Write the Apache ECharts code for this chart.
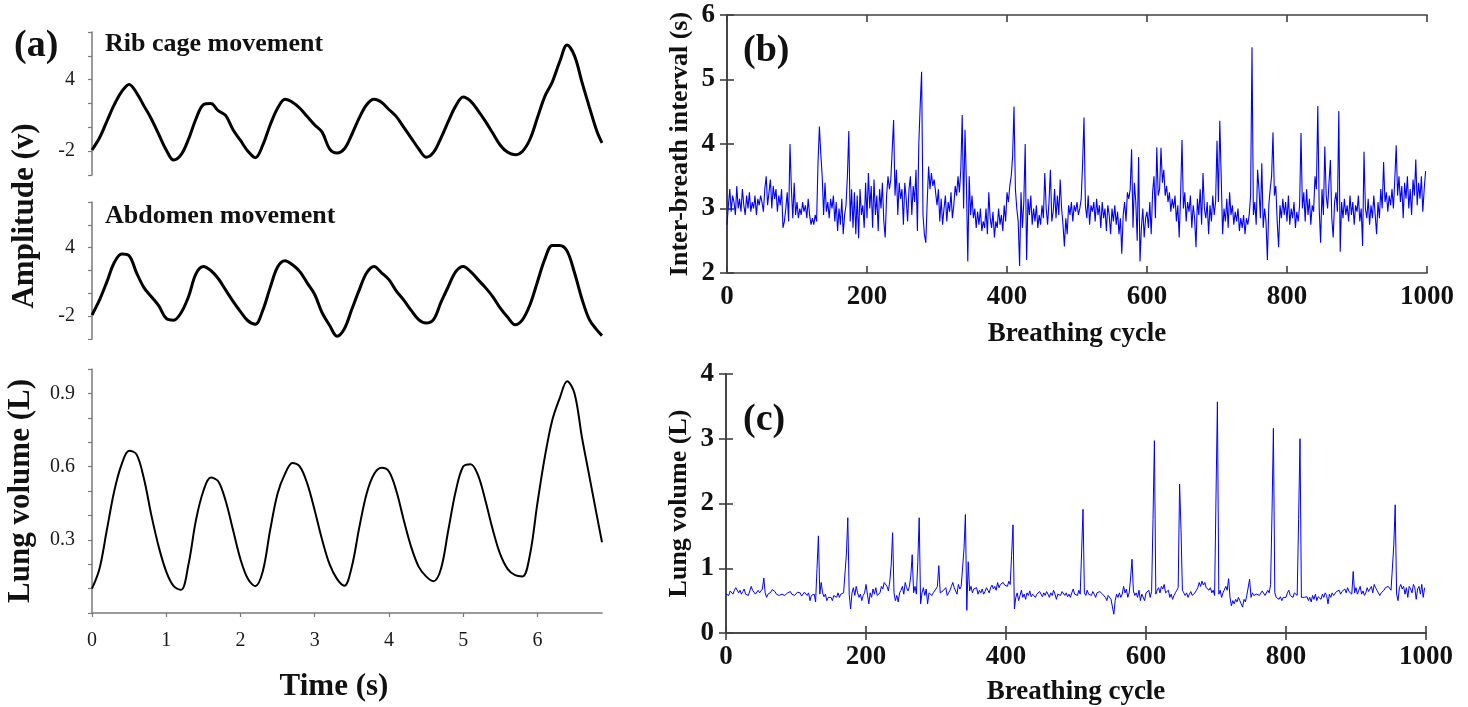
<!DOCTYPE html>
<html>
<head>
<meta charset="utf-8">
<script src="https://cdn.jsdelivr.net/npm/echarts@6/dist/echarts.min.js"></script>
<style>
html,body{margin:0;padding:0;background:#fff;}
#chart{width:1468px;height:707px;}
</style>
</head>
<body>
<div id="chart"></div>
<script>
// ---------- Panel (a) data ----------
const timeS = [0,0.1,0.2,0.3,0.4,0.5,0.6,0.7,0.8,0.9,1.0,1.1,1.2,1.3,1.4,1.5,1.6,1.7,1.8,1.9,2.0,2.1,2.2,2.3,2.4,2.5,2.6,2.7,2.8,2.9,3.0,3.1,3.2,3.3,3.4,3.5,3.6,3.7,3.8,3.9,4.0,4.1,4.2,4.3,4.4,4.5,4.6,4.7,4.8,4.9,5.0,5.1,5.2,5.3,5.4,5.5,5.6,5.7,5.8,5.9,6.0,6.1,6.2,6.3,6.4,6.5,6.6,6.7,6.8,6.87];
const ribCage = [-1.9,-0.9,0.5,1.9,3.0,3.6,2.9,1.8,0.7,-0.6,-1.9,-2.75,-2.3,-1.0,0.7,1.9,2.0,1.4,1.0,-0.2,-1.1,-2.0,-2.55,-1.5,0.2,1.6,2.35,2.1,1.6,0.9,0.2,-0.4,-1.8,-2.15,-1.8,-0.6,0.8,1.9,2.35,2.1,1.5,0.9,0.0,-0.9,-1.8,-2.5,-2.1,-0.9,0.5,1.8,2.55,2.2,1.4,0.5,-0.5,-1.5,-2.1,-2.3,-2.0,-1.0,0.8,2.6,3.8,5.5,6.9,6.0,3.8,1.7,-0.3,-1.3];
const abdomen = [-1.9,-0.6,1.0,2.7,3.45,3.3,1.8,0.5,-0.3,-1.1,-2.2,-2.35,-1.7,-0.3,1.7,2.35,2.0,1.3,0.3,-0.7,-1.6,-2.4,-2.7,-1.5,0.5,2.3,2.85,2.5,1.9,0.9,-0.1,-1.7,-2.8,-3.75,-3.1,-1.4,0.3,1.8,2.35,1.8,1.2,0.2,-0.6,-1.5,-2.3,-2.6,-2.3,-0.8,0.6,1.9,2.35,1.9,1.2,0.5,-0.3,-1.3,-2.1,-2.75,-2.3,-1.0,1.0,3.0,4.2,4.2,3.7,1.8,-0.5,-2.3,-3.2,-3.7];
const lungVolA = [0.10,0.18,0.34,0.50,0.61,0.665,0.65,0.55,0.40,0.27,0.17,0.11,0.095,0.20,0.38,0.50,0.555,0.54,0.46,0.34,0.22,0.14,0.11,0.17,0.34,0.49,0.57,0.615,0.60,0.53,0.42,0.30,0.20,0.14,0.112,0.19,0.35,0.49,0.57,0.595,0.58,0.50,0.38,0.27,0.19,0.15,0.13,0.18,0.34,0.50,0.60,0.61,0.565,0.46,0.34,0.24,0.18,0.155,0.15,0.24,0.45,0.64,0.79,0.88,0.95,0.90,0.72,0.56,0.40,0.29];

const ampTicks = [-4,-2,0,2,4,6,8];
const ampLabels = [-2,4];
const lungATicks = [0,0.1,0.2,0.3,0.4,0.5,0.6,0.7,0.8,0.9,1.0];
const lungALabels = [0.3,0.6,0.9];
const timeTicks = [0,1,2,3,4,5,6];

// ---------- Panels (b) and (c): one value every 2 breathing cycles ----------
const cycleStep = 2;
const interBreath = [
2.75,3.05,3.3,2.95,3.2,3.1,2.9,3.35,3.0,3.15,2.95,3.3,3.05,2.9,3.2,3.0,3.25,2.95,3.1,3.0,3.2,2.9,3.15,3.05,3.2,
3.1,2.95,3.3,3.5,3.05,3.25,3.45,3.0,3.35,3.15,3.3,2.95,3.2,3.05,3.3,2.7,2.8,3.0,3.25,2.8,4.0,3.3,2.85,3.4,2.9,
3.1,2.85,3.0,2.9,3.1,2.95,3.05,2.85,3.15,2.9,2.75,2.85,2.75,2.9,2.8,3.7,4.27,3.85,3.5,2.9,3.4,2.95,3.1,2.85,3.15,
3.0,3.2,2.8,3.1,2.65,3.0,2.75,3.15,2.6,2.9,3.05,3.5,4.2,2.8,3.3,2.7,3.25,2.6,3.2,2.54,3.3,2.9,3.05,2.7,3.4,
2.85,3.55,3.0,3.35,2.7,3.45,2.9,3.2,2.65,3.3,3.0,3.4,2.8,2.55,3.2,3.5,3.3,3.45,3.9,4.37,3.2,3.6,2.9,3.4,3.15,
3.3,2.75,3.4,3.15,2.8,3.3,3.5,2.9,3.35,3.1,3.6,2.65,4.0,4.6,5.12,2.9,2.6,2.47,3.1,3.65,3.3,3.55,3.35,3.45,3.25,
3.05,3.3,2.8,3.15,2.75,3.0,3.2,2.8,3.1,2.95,3.25,2.85,3.05,3.35,3.2,3.5,3.25,3.6,4.45,3.0,4.22,3.4,2.18,3.5,2.9,
3.2,2.85,3.0,2.7,2.95,2.75,3.0,2.65,2.8,2.7,3.0,2.6,3.25,2.85,2.7,2.95,2.55,2.8,2.7,3.0,2.75,2.9,2.65,3.05,2.8,
3.25,3.1,3.35,3.5,3.8,4.58,3.3,3.0,2.8,2.11,3.25,2.7,3.1,4.0,2.2,3.15,2.9,3.2,2.75,3.0,2.8,3.05,2.7,2.9,2.75,
3.05,2.85,3.55,3.0,2.75,3.1,3.6,2.8,2.95,3.3,2.85,3.2,2.9,3.45,3.0,2.75,2.41,2.85,2.6,3.05,2.9,3.1,2.8,3.05,2.95,
3.1,2.9,3.0,3.15,3.7,4.41,3.05,2.85,3.2,2.75,3.05,2.95,3.1,2.8,3.15,2.9,3.05,2.7,3.1,2.85,3.0,2.65,3.05,2.9,2.6,
3.0,2.8,3.05,2.75,2.95,2.6,2.85,2.3,2.9,3.1,2.8,3.25,3.15,3.3,3.92,2.7,3.4,3.1,2.5,3.8,2.18,2.7,3.0,2.55,2.85,
2.95,2.7,3.1,2.6,3.25,3.5,2.85,3.95,3.2,3.3,3.94,3.4,3.6,3.2,3.35,3.1,3.25,2.95,3.15,3.0,3.2,2.8,3.05,2.55,3.2,
4.06,3.0,3.25,2.8,3.1,2.95,3.2,2.7,3.05,2.85,2.4,3.15,2.9,3.3,2.75,3.55,3.0,2.85,3.1,2.6,3.05,2.8,3.2,2.9,3.1,
4.05,3.1,4.36,3.5,2.6,3.0,2.8,3.15,2.7,3.25,2.9,3.05,2.75,2.95,2.8,3.0,2.65,2.85,2.7,2.9,2.6,2.85,2.75,2.9,3.2,
5.5,2.9,3.1,2.75,3.6,3.3,2.85,3.7,2.7,3.0,2.8,2.2,3.05,3.3,3.5,4.18,3.2,3.35,2.8,2.4,3.05,2.85,3.15,2.9,3.1,
2.8,3.2,2.75,3.0,2.85,3.1,2.7,2.95,2.8,3.05,4.17,3.0,3.25,2.8,3.3,2.9,3.15,2.75,3.05,2.95,3.5,3.3,4.59,3.0,2.47,
3.3,2.9,3.96,3.2,3.0,3.4,3.75,2.85,2.55,3.1,3.25,2.95,4.51,2.33,3.1,2.85,3.15,2.9,3.05,2.8,3.2,2.9,3.1,2.75,3.05,
2.95,3.2,2.8,3.0,2.42,3.88,3.0,2.85,3.15,2.75,3.05,2.85,3.2,2.9,2.6,3.1,2.85,3.3,3.0,3.72,3.1,3.25,2.95,3.2,3.05,
3.3,3.0,3.45,3.98,3.2,3.5,3.1,3.35,2.85,3.4,3.15,3.5,3.0,3.3,2.9,3.45,3.2,3.76,3.05,3.4,3.15,3.5,2.95,3.3,3.58
];
const lungVolCycle = [
0.6,0.62,0.58,0.65,0.63,0.6,0.66,0.7,0.68,0.62,0.66,0.6,0.64,0.68,0.6,0.63,0.58,0.65,0.72,0.66,0.64,0.6,0.63,0.66,0.62,
0.6,0.68,0.85,0.62,0.55,0.6,0.57,0.63,0.67,0.7,0.64,0.6,0.62,0.58,0.55,0.6,0.62,0.58,0.56,0.62,0.6,0.64,0.6,0.62,0.58,
0.6,0.63,0.6,0.62,0.57,0.6,0.63,0.6,0.58,0.62,0.5,0.58,0.55,0.6,0.48,1.0,1.5,0.6,0.78,0.62,0.56,0.6,0.5,0.55,0.52,
0.55,0.5,0.58,0.6,0.55,0.62,0.55,0.6,0.58,0.62,0.6,1.22,1.78,0.6,0.37,0.62,0.7,0.58,0.72,0.62,0.55,0.6,0.5,0.58,0.62,
0.75,0.6,0.45,0.62,0.55,0.68,0.6,0.7,0.58,0.55,0.62,0.72,0.68,0.78,0.75,0.72,0.65,0.8,1.05,1.55,0.62,0.5,0.58,0.48,0.62,
0.66,0.72,0.6,0.78,0.7,0.65,0.72,0.88,1.21,0.62,0.72,0.6,1.1,1.78,0.45,0.62,0.7,0.58,0.68,0.45,0.62,0.6,0.58,0.62,0.65,
0.68,0.72,1.04,0.62,0.6,0.65,0.62,0.7,0.58,0.62,0.66,0.72,0.78,0.7,0.72,0.6,0.75,0.68,0.72,0.7,1.3,1.83,0.35,1.1,0.65,
0.72,0.62,0.68,0.65,0.7,0.6,0.66,0.62,0.68,0.6,0.64,0.7,0.66,0.62,0.7,0.74,0.68,0.72,0.66,0.78,0.7,0.75,0.72,0.78,0.74,
0.76,0.72,0.8,0.75,1.2,1.67,0.37,0.55,0.62,0.5,0.58,0.66,0.55,0.6,0.52,0.62,0.58,0.65,0.56,0.6,0.62,0.55,0.6,0.58,0.64,
0.6,0.56,0.62,0.58,0.64,0.6,0.55,0.62,0.58,0.66,0.6,0.52,0.6,0.62,0.58,0.64,0.66,0.58,0.62,0.56,0.6,0.55,0.62,0.68,0.6,
0.62,0.58,0.66,0.6,1.25,1.91,0.62,0.58,0.66,0.6,0.62,0.58,0.64,0.6,0.55,0.62,0.6,0.64,0.66,0.6,0.58,0.55,0.5,0.58,0.6,
0.52,0.55,0.29,0.5,0.6,0.55,0.62,0.55,0.6,0.72,0.62,0.68,0.55,0.62,0.85,1.14,0.65,0.58,0.62,0.55,0.66,0.5,0.6,0.62,0.5,
0.62,0.6,0.66,0.55,0.64,1.75,2.97,0.6,0.66,0.7,0.62,0.72,0.68,0.75,0.62,0.6,0.66,0.55,0.6,0.52,0.58,0.62,0.66,0.7,2.3,
1.6,0.66,0.62,0.58,0.62,0.55,0.6,0.64,0.58,0.6,0.62,0.66,0.7,0.78,0.72,0.8,0.74,0.78,0.7,0.72,0.66,0.7,0.62,0.66,0.58,
2.1,3.57,0.6,0.66,0.55,0.62,0.6,0.72,0.66,0.84,0.55,0.42,0.5,0.45,0.52,0.48,0.55,0.5,0.45,0.4,0.52,0.48,0.58,0.55,0.83,
0.55,0.62,0.58,0.55,0.6,0.62,0.58,0.6,0.65,0.62,0.58,0.6,0.66,0.62,0.75,1.85,3.16,0.62,0.55,0.58,0.52,0.56,0.5,0.55,0.52,
0.55,0.62,0.66,0.58,0.6,0.55,0.62,0.6,0.58,1.75,3.0,0.55,0.58,0.55,0.52,0.56,0.5,0.55,0.48,0.58,0.52,0.6,0.5,0.56,0.58,
0.52,0.6,0.55,0.62,0.58,0.45,0.6,0.55,0.62,0.58,0.6,0.64,0.62,0.66,0.6,0.64,0.66,0.68,0.62,0.7,0.64,0.66,0.6,0.95,0.62,
0.7,0.6,0.66,0.72,0.6,0.65,0.58,0.62,0.7,0.64,0.68,0.72,0.62,0.75,0.7,0.66,0.62,0.58,0.62,0.65,0.66,0.7,0.68,0.72,0.7,
0.66,0.68,1.36,1.98,0.6,0.5,0.7,0.75,0.68,0.72,0.6,0.7,0.55,0.72,0.68,0.62,0.75,0.7,0.52,0.68,0.72,0.6,0.75,0.55,0.7
];

const SERIF = "'Liberation Serif', 'Times New Roman', serif";
const pairs = (xs, ys) => ys.map((v, i) => [xs[i], v]);
const cyclePairs = ys => ys.map((v, i) => [i * cycleStep, v]);

const chart = echarts.init(document.getElementById('chart'), null, {renderer: 'canvas'});

const aAxisLine = {show: true, lineStyle: {color: '#7a7a7a', width: 1.5}};
const aTick = vals => ({show: true, inside: false, length: 4, customValues: vals, lineStyle: {color: '#7a7a7a', width: 1.2}});
const aLabel = (vals, extra) => Object.assign({show: true, customValues: vals, fontFamily: SERIF, fontSize: 20, color: '#1a1a1a', margin: 17}, extra || {});

const boxLine = {show: true, lineStyle: {color: '#404040', width: 1.6}};
const boxTick = {show: true, inside: true, length: 7, lineStyle: {color: '#404040', width: 1.6}};
const boxLabel = {show: true, fontFamily: SERIF, fontWeight: 'bold', fontSize: 27, color: '#111', formatter: v => String(v)};
const nameStyleBC = {fontFamily: SERIF, fontWeight: 'bold', fontSize: 26, color: '#111'};

const option = {
  animation: false,
  backgroundColor: '#ffffff',
  grid: [
    {left: 92, top: 32, width: 510, height: 143},
    {left: 92, top: 202, width: 510, height: 137},
    {left: 92, top: 369, width: 510, height: 244},
    {left: 727, top: 15, width: 700, height: 258},
    {left: 726, top: 374, width: 700, height: 259}
  ],
  xAxis: [
    {gridIndex: 0, type: 'value', min: 0, max: 6.87, show: false},
    {gridIndex: 1, type: 'value', min: 0, max: 6.87, show: false},
    {gridIndex: 2, type: 'value', min: 0, max: 6.87, splitLine: {show: false},
     axisLine: aAxisLine, axisTick: aTick(timeTicks), axisLabel: aLabel(timeTicks, {margin: 18})},
    {gridIndex: 3, type: 'value', min: 0, max: 1000, interval: 200, position: 'bottom', splitLine: {show: false},
     axisLine: boxLine, axisTick: boxTick, axisLabel: Object.assign({margin: 11}, boxLabel),
     name: 'Breathing cycle', nameLocation: 'middle', nameGap: 48, nameTextStyle: Object.assign({}, nameStyleBC, {fontSize: 27})},
    {gridIndex: 3, type: 'value', min: 0, max: 1000, interval: 200, position: 'top', splitLine: {show: false},
     axisLine: boxLine, axisTick: boxTick, axisLabel: {show: false}},
    {gridIndex: 4, type: 'value', min: 0, max: 1000, interval: 200, position: 'bottom', splitLine: {show: false},
     axisLine: boxLine, axisTick: boxTick, axisLabel: Object.assign({margin: 11}, boxLabel),
     name: 'Breathing cycle', nameLocation: 'middle', nameGap: 46, nameTextStyle: Object.assign({}, nameStyleBC, {fontSize: 27})},
    {gridIndex: 4, type: 'value', min: 0, max: 1000, interval: 200, position: 'top', splitLine: {show: false},
     axisLine: boxLine, axisTick: boxTick, axisLabel: {show: false}}
  ],
  yAxis: [
    {gridIndex: 0, type: 'value', min: -4, max: 8, splitLine: {show: false},
     axisLine: aAxisLine, axisTick: aTick(ampTicks), axisLabel: aLabel(ampLabels)},
    {gridIndex: 1, type: 'value', min: -4, max: 8, splitLine: {show: false},
     axisLine: aAxisLine, axisTick: aTick(ampTicks), axisLabel: aLabel(ampLabels)},
    {gridIndex: 2, type: 'value', min: 0, max: 1, splitLine: {show: false},
     axisLine: aAxisLine, axisTick: aTick(lungATicks), axisLabel: aLabel(lungALabels, {formatter: v => v.toFixed(1)}),
     name: 'Lung volume (L)', nameLocation: 'middle', nameRotate: 90, nameGap: 56,
     nameTextStyle: {fontFamily: SERIF, fontWeight: 'bold', fontSize: 31, color: '#111'}},
    {gridIndex: 3, type: 'value', min: 2, max: 6, interval: 1, position: 'left', splitLine: {show: false},
     axisLine: boxLine, axisTick: boxTick, axisLabel: Object.assign({margin: 12}, boxLabel),
     name: 'Inter-breath interval (s)', nameLocation: 'middle', nameRotate: 90, nameGap: 34, nameTextStyle: nameStyleBC},
    {gridIndex: 3, type: 'value', min: 2, max: 6, interval: 1, position: 'right', splitLine: {show: false},
     axisLine: boxLine, axisTick: boxTick, axisLabel: {show: false}},
    {gridIndex: 4, type: 'value', min: 0, max: 4, interval: 1, position: 'left', splitLine: {show: false},
     axisLine: boxLine, axisTick: boxTick, axisLabel: Object.assign({margin: 12}, boxLabel),
     name: 'Lung volume (L)', nameLocation: 'middle', nameRotate: 90, nameGap: 34, nameTextStyle: nameStyleBC},
    {gridIndex: 4, type: 'value', min: 0, max: 4, interval: 1, position: 'right', splitLine: {show: false},
     axisLine: boxLine, axisTick: boxTick, axisLabel: {show: false}}
  ],
  series: [
    {name: 'Rib cage movement', type: 'line', xAxisIndex: 0, yAxisIndex: 0, data: pairs(timeS, ribCage),
     showSymbol: false, smooth: 0.35, lineStyle: {color: '#000', width: 3}},
    {name: 'Abdomen movement', type: 'line', xAxisIndex: 1, yAxisIndex: 1, data: pairs(timeS, abdomen),
     showSymbol: false, smooth: 0.35, lineStyle: {color: '#000', width: 3}},
    {name: 'Lung volume', type: 'line', xAxisIndex: 2, yAxisIndex: 2, data: pairs(timeS, lungVolA),
     showSymbol: false, smooth: 0.35, lineStyle: {color: '#000', width: 2}},
    {name: 'Inter-breath interval', type: 'line', xAxisIndex: 3, yAxisIndex: 3, data: cyclePairs(interBreath),
     showSymbol: false, lineStyle: {color: '#0000ff', width: 1.1}},
    {name: 'Lung volume per cycle', type: 'line', xAxisIndex: 5, yAxisIndex: 5, data: cyclePairs(lungVolCycle),
     showSymbol: false, lineStyle: {color: '#0000ff', width: 1}}
  ],
  graphic: [
    {type: 'text', x: 14, y: 46, style: {text: '(a)', font: "bold 38px " + SERIF, fill: '#111', textAlign: 'left', textVerticalAlign: 'middle'}},
    {type: 'text', x: 105, y: 44, style: {text: 'Rib cage movement', font: "bold 26px " + SERIF, fill: '#111', textAlign: 'left', textVerticalAlign: 'middle'}},
    {type: 'text', x: 105, y: 216, style: {text: 'Abdomen movement', font: "bold 26px " + SERIF, fill: '#111', textAlign: 'left', textVerticalAlign: 'middle'}},
    {type: 'text', x: 25, y: 216, rotation: Math.PI / 2, style: {text: 'Amplitude (v)', font: "bold 31px " + SERIF, fill: '#111', textAlign: 'center', textVerticalAlign: 'middle'}},
    {type: 'text', x: 334, y: 687, style: {text: 'Time (s)', font: "bold 31px " + SERIF, fill: '#111', textAlign: 'center', textVerticalAlign: 'middle'}},
    {type: 'text', x: 743, y: 51, style: {text: '(b)', font: "bold 38px " + SERIF, fill: '#111', textAlign: 'left', textVerticalAlign: 'middle'}},
    {type: 'text', x: 743, y: 420, style: {text: '(c)', font: "bold 38px " + SERIF, fill: '#111', textAlign: 'left', textVerticalAlign: 'middle'}}
  ]
};
chart.setOption(option);
</script>
</body>
</html>
